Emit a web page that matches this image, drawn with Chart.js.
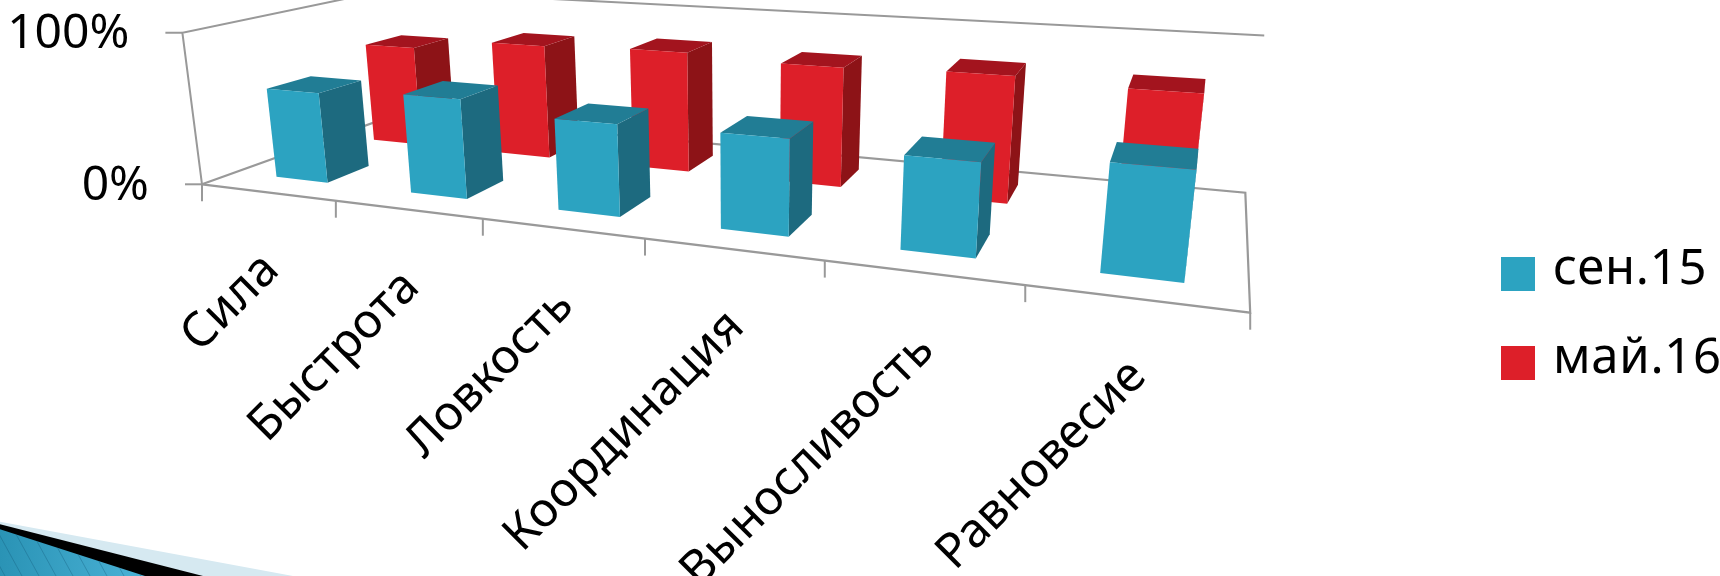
<!DOCTYPE html>
<html>
<head>
<meta charset="utf-8">
<title>3D bars</title>
<script src="https://cdn.jsdelivr.net/npm/chart.js@4"></script>
<style>
  html, body { margin: 0; padding: 0; background: #fff; }
  #wrap { width: 1720px; height: 576px; overflow: hidden; }
  canvas { display: block; }
</style>
</head>
<body>
<div id="wrap"><canvas id="chart" width="1720" height="576"></canvas></div>
<script>
// ---------- DATA ----------
const categories = ["Сила", "Быстрота", "Ловкость", "Координация", "Выносливость", "Равновесие"];
const sep15 = [60, 64, 57, 57.5, 54, 60];
const may16 = [71.5, 79, 81, 78, 80, 77];
const seriesNames = ["сен.15", "май.16"];

// ---------- STYLE ----------
const FONT = '"Noto Sans", sans-serif';
const AXIS_FONT_SIZE = 48;
const LEGEND_FONT_SIZE = 49;
const LINE_COLOR = "#999999";
const blueFaces = { front: "#2ca3c1", side: "#1d6a7f", top: "#217d95" };
const redFaces = { front: "#dd1f29", side: "#8d1317", top: "#a3141e" };

// Bars sit at these depths on the floor (0 = front edge, 1 = back wall).
const blueDepth = [0.147, 0.353];
const redDepth = [0.647, 0.853];
const BAR_SHIFT = 0.0025; // bars are a hair right of the category centre

// Camera of the fake 3D box, fitted to the corners of the floor and walls.
// Maps (u along the categories, v into the depth, h up), all 0..1, to the page.
const CAM = [
  [713.1, 285.6, -26, 202],
  [44.58, -43.09, -152.7, 184.3],
  [-0.26804, 0.23221, -0.035, 1],
];

function project(u, v, h) {
  const w = CAM[2][0] * u + CAM[2][1] * v + CAM[2][2] * h + CAM[2][3];
  return [
    (CAM[0][0] * u + CAM[0][1] * v + CAM[0][2] * h + CAM[0][3]) / w,
    (CAM[1][0] * u + CAM[1][1] * v + CAM[1][2] * h + CAM[1][3]) / w,
  ];
}

// ---------- DRAW HELPERS ----------
function fillFace(ctx, color, corners) {
  ctx.beginPath();
  corners.forEach((c, i) => {
    const p = project(c[0], c[1], c[2]);
    if (i === 0) ctx.moveTo(p[0], p[1]);
    else ctx.lineTo(p[0], p[1]);
  });
  ctx.closePath();
  ctx.fillStyle = color;
  ctx.fill();
}

function strokePath(ctx, points, width) {
  ctx.beginPath();
  points.forEach((p, i) => {
    if (i === 0) ctx.moveTo(p[0], p[1]);
    else ctx.lineTo(p[0], p[1]);
  });
  ctx.lineWidth = width;
  ctx.strokeStyle = LINE_COLOR;
  ctx.stroke();
}

function drawBox(ctx, u0, u1, v0, v1, h, faces) {
  fillFace(ctx, faces.side, [[u1, v0, 0], [u1, v1, 0], [u1, v1, h], [u1, v0, h]]);
  fillFace(ctx, faces.top, [[u0, v0, h], [u1, v0, h], [u1, v1, h], [u0, v1, h]]);
  fillFace(ctx, faces.front, [[u0, v0, 0], [u1, v0, 0], [u1, v0, h], [u0, v0, h]]);
}

// The slide's corner artwork, bottom left of the picture.
function drawCorner(ctx) {
  const band = (color, a, b) => {
    ctx.beginPath();
    ctx.moveTo(0, a);
    ctx.lineTo(b, 576);
    ctx.lineTo(0, 576);
    ctx.closePath();
    ctx.fillStyle = color;
    ctx.fill();
  };
  band("#d6e9f1", 521.7, 293);
  band("#000000", 524.3, 203);
  const grad = ctx.createLinearGradient(0, 0, 145, 0);
  grad.addColorStop(0, "#2a93b5");
  grad.addColorStop(1, "#4ab2d6");
  band(grad, 529.3, 145);

  // thin diagonal stripes on the blue part
  ctx.save();
  ctx.clip();
  ctx.strokeStyle = "rgba(20, 90, 120, 0.35)";
  ctx.lineWidth = 1;
  for (let x = -40; x < 170; x += 17) {
    ctx.beginPath();
    ctx.moveTo(x, 525);
    ctx.lineTo(x + 28, 576);
    ctx.stroke();
  }
  ctx.restore();
}

function drawLegend(chart) {
  const ctx = chart.ctx;
  ctx.save();
  ctx.font = LEGEND_FONT_SIZE + "px " + FONT;
  ctx.letterSpacing = "0.7px";
  ctx.textAlign = "left";
  ctx.textBaseline = "alphabetic";
  chart.data.datasets.forEach((ds, i) => {
    const top = 257 + i * 89;
    ctx.fillStyle = ds.backgroundColor;
    ctx.fillRect(1501, top, 34, 34);
    ctx.fillStyle = "#000";
    ctx.fillText(ds.label, 1553, top + 27);
  });
  ctx.restore();
}

// ---------- PLUGIN: 3D BOX FROM THE CHART'S OWN SCALES ----------
const box3d = {
  id: "box3d",
  beforeDraw(chart) {
    drawCorner(chart.ctx);
  },
  // Flat bars are replaced by the extruded ones below.
  beforeDatasetsDraw(chart) {
    const ctx = chart.ctx;
    const xs = chart.scales.x;
    const ys = chart.scales.y;
    const toU = px => (px - xs.left) / xs.width;
    const toH = px => (ys.bottom - px) / ys.height;

    ctx.save();
    ctx.lineJoin = "miter";

    // walls and floor
    strokePath(ctx, [project(0, 0, 0), project(0, 0, 1), project(0, 1, 1), project(1, 1, 1)], 2);
    strokePath(ctx, [project(0, 0, 0), project(0, 1, 0), project(1, 1, 0), project(1, 0, 0), project(0, 0, 0)], 2.2);

    // value axis ticks and labels
    ctx.font = AXIS_FONT_SIZE + "px " + FONT;
    ctx.textAlign = "right";
    ctx.textBaseline = "middle";
    ys.ticks.forEach(t => {
      const p = project(0, 0, toH(ys.getPixelForValue(t.value)));
      strokePath(ctx, [p, [p[0] - 17, p[1]]], 2);
      ctx.fillStyle = "#000";
      ctx.fillText(t.label, p[0] - 53, p[1] + 2);
    });

    // category ticks and labels
    const n = categories.length;
    for (let i = 0; i <= n; i++) {
      const p = project(i / n, 0, 0);
      strokePath(ctx, [p, [p[0], p[1] + 17]], 2);
    }
    xs.getLabels().forEach((label, i) => {
      const p = project(toU(xs.getPixelForTick(i)), 0, 0);
      ctx.save();
      ctx.translate(p[0] + 4, p[1] + 70);
      ctx.rotate(-Math.PI / 4);
      ctx.fillStyle = "#000";
      ctx.fillText(label, 0, 0);
      ctx.restore();
    });

    // far row first, near row over it
    [[1, redDepth, redFaces], [0, blueDepth, blueFaces]].forEach(([idx, depth, faces]) => {
      chart.getDatasetMeta(idx).data.forEach(bar => {
        const u0 = toU(bar.x - bar.width / 2) + BAR_SHIFT;
        const u1 = toU(bar.x + bar.width / 2) + BAR_SHIFT;
        drawBox(ctx, u0, u1, depth[0], depth[1], toH(bar.y), faces);
      });
    });
    ctx.restore();
    drawLegend(chart);
    return false;
  },
};

// ---------- CHART ----------
new Chart(document.getElementById("chart"), {
  type: "bar",
  data: {
    labels: categories,
    datasets: [
      { label: seriesNames[0], data: sep15, backgroundColor: blueFaces.front },
      { label: seriesNames[1], data: may16, backgroundColor: redFaces.front },
    ],
  },
  options: {
    responsive: false,
    animation: false,
    grouped: false,
    barPercentage: 0.39,
    categoryPercentage: 1,
    scales: {
      x: { display: false, ticks: { autoSkip: false } },
      y: {
        display: false,
        min: 0,
        max: 100,
        ticks: { stepSize: 100, callback: v => v + "%" },
      },
    },
    plugins: {
      tooltip: { enabled: false },
      legend: { display: false },
    },
  },
  plugins: [box3d],
});
</script>
</body>
</html>
